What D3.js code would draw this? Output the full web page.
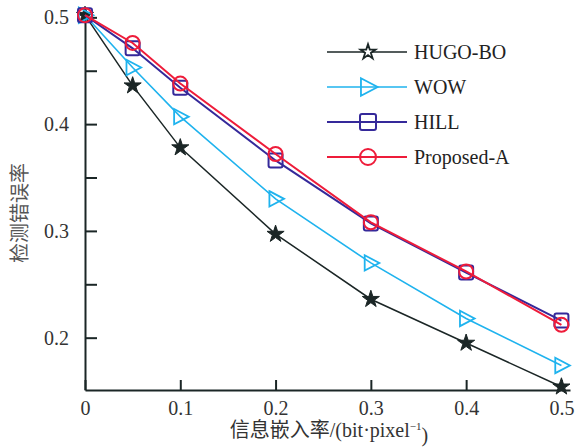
<!DOCTYPE html>
<html>
<head>
<meta charset="utf-8">
<script src="https://cdn.jsdelivr.net/npm/d3@7"></script>
<style>
  body { margin: 0; background: #fff; }
  svg text { font-family: "Liberation Serif", "Noto Sans CJK SC", serif; }
  .tick text { font-size: 20px; fill: #333; }
</style>
</head>
<body>
<div class="layout"></div>
<script>
// embedding rates (bit/pixel)
var rates = [0, 0.05, 0.1, 0.2, 0.3, 0.4, 0.5];

var hugoBO    = [0.502, 0.436, 0.378, 0.297, 0.236, 0.195, 0.154];
var wow       = [0.502, 0.453, 0.407, 0.330, 0.270, 0.218, 0.174];
var hill      = [0.502, 0.471, 0.434, 0.366, 0.307, 0.261, 0.216];
var proposedA = [0.502, 0.476, 0.438, 0.372, 0.308, 0.262, 0.212];

var seriesNames = ["HUGO-BO", "WOW", "HILL", "Proposed-A"];
var xTicks = [0, 0.1, 0.2, 0.3, 0.4, 0.5];
var yTicks = [0.2, 0.25, 0.3, 0.35, 0.4, 0.45, 0.5];
var yLabels = [0.2, 0.3, 0.4, 0.5];

var width = 577, height = 448;

var series = [
  { name: seriesNames[0], values: hugoBO,    color: "#1b2626", marker: "star",     lw: 1.5 },
  { name: seriesNames[1], values: wow,       color: "#1fb3ee", marker: "triangle", lw: 1.6 },
  { name: seriesNames[2], values: hill,      color: "#35299a", marker: "square",   lw: 2 },
  { name: seriesNames[3], values: proposedA, color: "#ee1c3a", marker: "circle",   lw: 2 }
];

var x = d3.scaleLinear().domain([0, 0.509]).range([85, 570]);
var y = d3.scaleLinear().domain([0.151, 0.505]).range([390, 12]);

var svg = d3.select(".layout").append("svg")
    .attr("width", width)
    .attr("height", height);

// axes, ticks pointing inwards
var xAxis = d3.axisBottom(x).tickValues(xTicks).tickSizeInner(-10).tickSizeOuter(0)
    .tickPadding(14).tickFormat(function(d) { return d === 0 ? "0" : d3.format(".1f")(d); });
var yAxis = d3.axisLeft(y).tickValues(yTicks).tickSizeInner(-12).tickSizeOuter(0)
    .tickPadding(16).tickFormat(function(d) { return yLabels.indexOf(d) >= 0 ? d3.format(".1f")(d) : ""; });

var gx = svg.append("g")
    .attr("class", "x axis")
    .attr("transform", "translate(0," + y.range()[0] + ")")
    .call(xAxis);
var gy = svg.append("g")
    .attr("class", "y axis")
    .attr("transform", "translate(" + x.range()[0] + ",0)")
    .call(yAxis);

svg.selectAll(".axis").attr("font-family", null);
svg.selectAll(".axis path, .axis line")
    .attr("stroke", "#1b2626")
    .attr("stroke-width", 2);
gx.selectAll(".tick text").attr("dy", "0.55em");

// axis titles
var xTitle = svg.append("text")
    .attr("x", 329)
    .attr("y", 437)
    .attr("text-anchor", "middle")
    .style("font-size", "20px")
    .style("fill", "#333");
xTitle.append("tspan").text("信息嵌入率/(bit·pixel");
xTitle.append("tspan")
    .attr("dy", "-0.6em")
    .style("font-size", "11px")
    .text("−1");
xTitle.append("tspan")
    .attr("dy", "0.6em")
    .text(")");

svg.append("text")
    .attr("transform", "translate(27,213) rotate(-90)")
    .attr("text-anchor", "middle")
    .style("font-family", "'Noto Sans CJK SC', sans-serif")
    .style("font-size", "20px")
    .style("fill", "#555")
    .text("检测错误率");

function drawMarker(g, type, color, cx, cy, s, filled) {
  if (type === "star") {
    g.append("path")
        .attr("d", d3.symbol().type(d3.symbolStar).size(s * 7)())
        .attr("transform", "translate(" + cx + "," + cy + ")")
        .attr("fill", filled ? color : "#fff").attr("stroke", color).attr("stroke-width", filled ? 1 : 1.8);
  } else if (type === "triangle") {
    var h = s * 0.55;
    g.append("path")
        .attr("d", "M" + (cx - h * 0.8) + "," + (cy - h) + "L" + (cx + h * 1.1) + "," + cy +
                   "L" + (cx - h * 0.8) + "," + (cy + h) + "Z")
        .attr("fill", "none").attr("stroke", color).attr("stroke-width", 1.8);
  } else if (type === "square") {
    g.append("rect")
        .attr("x", cx - s / 2).attr("y", cy - s / 2)
        .attr("width", s).attr("height", s).attr("rx", 2)
        .attr("fill", "none").attr("stroke", color).attr("stroke-width", 2);
  } else {
    g.append("circle")
        .attr("cx", cx).attr("cy", cy).attr("r", s / 2)
        .attr("fill", "none").attr("stroke", color).attr("stroke-width", 2);
  }
}

var line = d3.line()
    .x(function(d) { return x(d[0]); })
    .y(function(d) { return y(d[1]); });

series.forEach(function(s) {
  var pts = rates.map(function(r, i) { return [r, s.values[i]]; });
  var g = svg.append("g").attr("class", "series");
  g.append("path")
      .datum(pts)
      .attr("d", line)
      .attr("fill", "none")
      .attr("stroke", s.color)
      .attr("stroke-width", s.lw);
  pts.forEach(function(p) {
    drawMarker(g, s.marker, s.color, x(p[0]), y(p[1]), s.marker === "star" ? 13 : 14, true);
  });
});

// legend
var legend = svg.append("g").attr("class", "legend");
series.forEach(function(s, i) {
  var ly = 52 + i * 35;
  legend.append("line")
      .attr("x1", 327).attr("x2", 407)
      .attr("y1", ly).attr("y2", ly)
      .attr("stroke", s.color).attr("stroke-width", s.lw);
  drawMarker(legend, s.marker, s.color, 368, ly, s.marker === "star" ? 10 : 16, false);
  legend.append("text")
      .attr("x", 414).attr("y", ly)
      .attr("dy", "0.35em")
      .style("font-size", "20px")
      .style("fill", "#222")
      .text(s.name);
});
</script>
</body>
</html>
